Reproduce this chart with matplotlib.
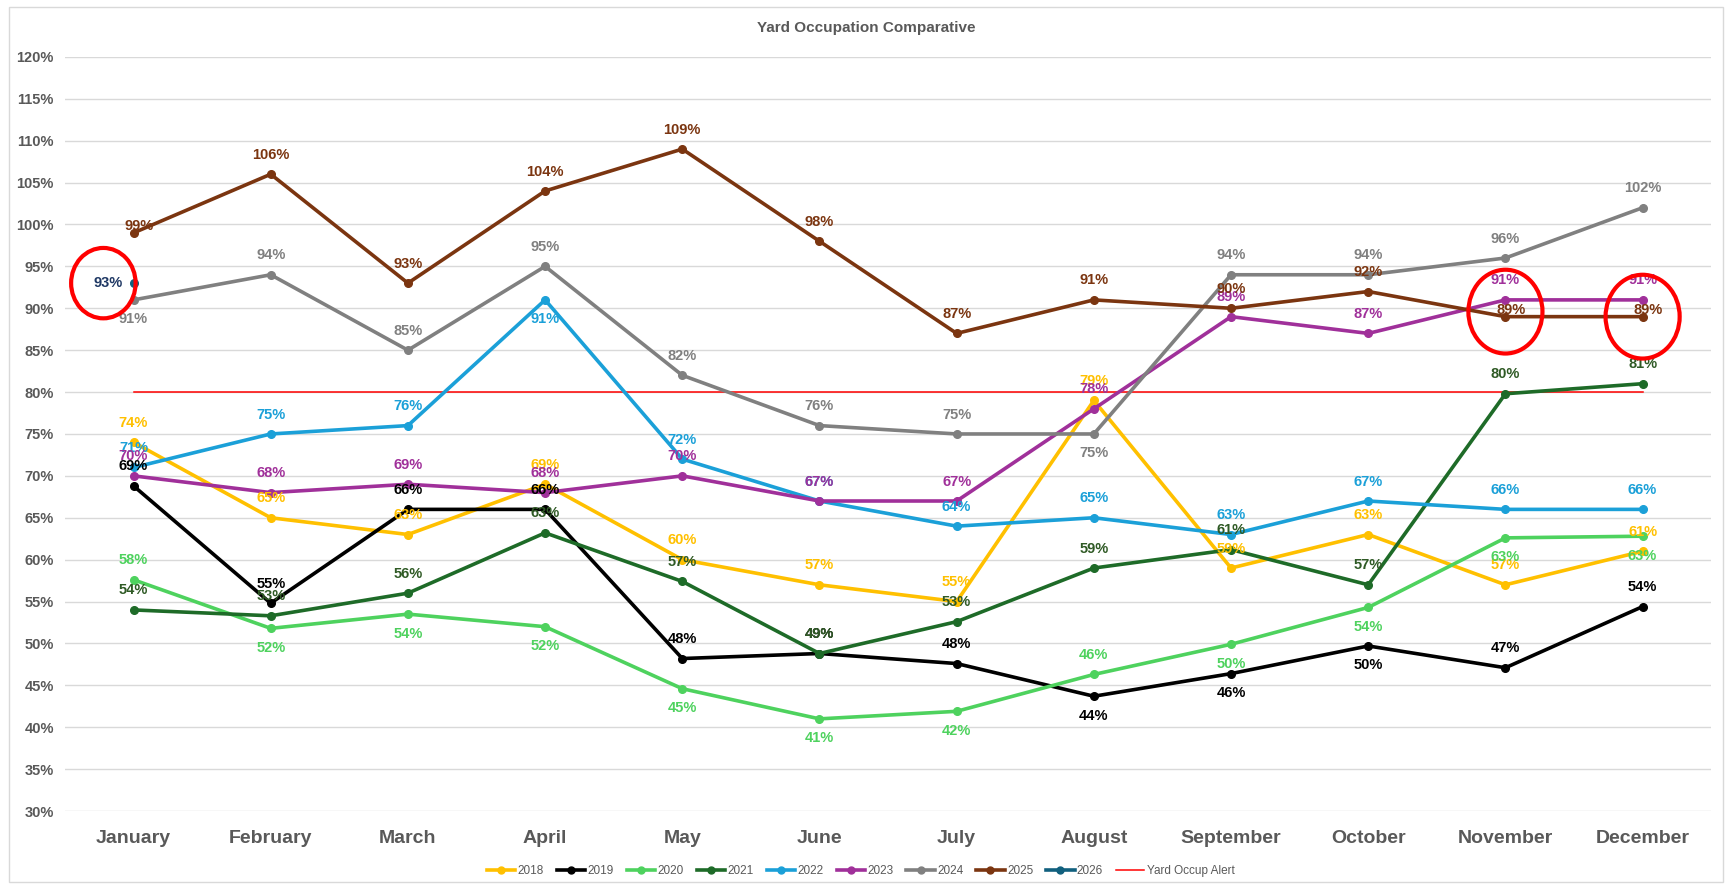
import matplotlib
matplotlib.use("Agg")
import matplotlib.pyplot as plt
from matplotlib.patches import Ellipse, Rectangle
from matplotlib.lines import Line2D

# ---- data (occupation in %) ----
months = ['January', 'February', 'March', 'April', 'May', 'June',
          'July', 'August', 'September', 'October', 'November', 'December']

occ_2018 = [74, 65, 63, 69, 60, 57, 55, 79, 59, 63, 57, 61]
occ_2019 = [68.8, 54.8, 66, 66, 48.2, 48.8, 47.6, 43.7, 46.4, 49.7, 47.1, 54.4]
occ_2020 = [57.6, 51.8, 53.5, 52, 44.6, 41, 41.9, 46.3, 49.9, 54.3, 62.6, 62.8]
occ_2021 = [54, 53.3, 56, 63.2, 57.4, 48.8, 52.6, 59, 61.2, 57, 79.8, 81]
occ_2022 = [71, 75, 76, 91, 72, 67, 64, 65, 63, 67, 66, 66]
occ_2023 = [70, 68, 69, 68, 70, 67, 67, 78, 89, 87, 91, 91]
occ_2024 = [91, 94, 85, 95, 82, 76, 75, 75, 94, 94, 96, 102]
occ_2025 = [99, 106, 93, 104, 109, 98, 87, 91, 90, 92, 89, 89]
occ_2026 = [93, None, None, None, None, None, None, None, None, None, None, None]
alert_level = 80

years = ['2018', '2019', '2020', '2021', '2022', '2023', '2024', '2025', '2026']
series = [occ_2018, occ_2019, occ_2020, occ_2021, occ_2022,
          occ_2023, occ_2024, occ_2025, occ_2026]

# ---- style ----
colors = ['#FFC000', '#000000', '#4ED25E', '#1E6B28', '#1BA0D8',
          '#A0309A', '#808080', '#7B3510', '#11607E']
label_colors = ['#FFC000', '#000000', '#4ED25E', '#2F5A25', '#1BA0D8',
                '#A0309A', '#808080', '#7B3510', '#1F3864']
# where each data label sits: a=above, b=below, c=on point, l=left
label_pos = {
    '2018': 'a' * 12,
    '2019': 'aaaaaaabbbaa',
    '2020': 'abbbbbbabbbb',
    '2021': 'a' * 12,
    '2022': 'aaabaaaaaaaa',
    '2023': 'a' * 12,
    '2024': 'baaaaaabaaaa',
    '2025': 'caaaaaaaaacc',
    '2026': 'l' + 'a' * 11,
}
GREY = '#595959'
FONT = ['Liberation Sans Narrow', 'Liberation Sans', 'DejaVu Sans']

plt.rcParams['font.family'] = FONT

fig = plt.figure(figsize=(17.32, 8.89), dpi=100)
ax = fig.add_axes([0.0375, 0.0877, 0.9505, 0.8483])

x = list(range(len(months)))

for yr, vals, col, lcol in zip(years, series, colors, label_colors):
    ax.plot(x, vals, color=col, lw=2.6, marker='o', ms=5.5, zorder=3,
            solid_joinstyle='round')
    for i, v in enumerate(vals):
        if v is None:
            continue
        pos = label_pos[yr][i]
        if pos == 'a':
            off, ha = (0, 14), 'center'
        elif pos == 'b':
            off, ha = (0, -14), 'center'
        elif pos == 'c':
            off, ha = (4, 5), 'center'
        else:
            off, ha = (-8, 0), 'right'
        ax.annotate(f'{v:.0f}%', (i, v), xytext=off, textcoords='offset points',
                    ha=ha, va='center', fontsize=10.5, fontweight='bold',
                    color=lcol, zorder=4)

ax.plot([x[0], x[-1]], [alert_level, alert_level], color='#FF0000', lw=1.1, zorder=2)

# red highlight circles
circles = [(0, occ_2026[0], -0.22, 0.0, 0.47, 8.4),
           (10, occ_2025[10], 0.0, 0.6, 0.54, 10.0),
           (11, occ_2025[11], 0.0, 0.0, 0.54, 10.0)]
for i, v, dx, dy, w, h in circles:
    ax.add_patch(Ellipse((i + dx, v + dy), w, h, fill=False, ec='#FF0000',
                         lw=3, zorder=5, clip_on=False))

ax.set_xlim(-0.5, 11.5)
ax.set_ylim(30, 120)
ax.set_yticks(range(30, 121, 5))
ax.set_yticklabels([f'{t}%' for t in range(30, 121, 5)])
ax.set_xticks(x)
ax.set_xticklabels(months)
ax.tick_params(axis='y', length=0, pad=8, labelsize=10.5, labelcolor=GREY)
ax.tick_params(axis='x', length=0, pad=14, labelsize=14, labelcolor=GREY)
for lab in ax.get_xticklabels() + ax.get_yticklabels():
    lab.set_fontweight('bold')
ax.grid(axis='y', color='#D9D9D9', lw=1)
ax.set_axisbelow(True)
for s in ax.spines.values():
    s.set_visible(False)

fig.text(0.5, 0.968, 'Yard Occupation Comparative', ha='center', va='center',
         fontsize=11, fontweight='bold', color=GREY)

handles = [Line2D([], [], color=c, lw=2.6, marker='o', ms=5) for c in colors]
handles.append(Line2D([], [], color='#FF0000', lw=1.1))
fig.legend(handles, years + ['Yard Occup Alert'], loc='center',
           bbox_to_anchor=(0.497, 0.02), ncol=10, frameon=False, fontsize=8.5,
           labelcolor=GREY, handlelength=2.4, handletextpad=0.2, columnspacing=1.1)

fig.patches.append(Rectangle((0.005, 0.008), 0.99, 0.984, transform=fig.transFigure,
                             fill=False, ec='#D9D9D9', lw=1))

fig.savefig('out.png', dpi=100)
